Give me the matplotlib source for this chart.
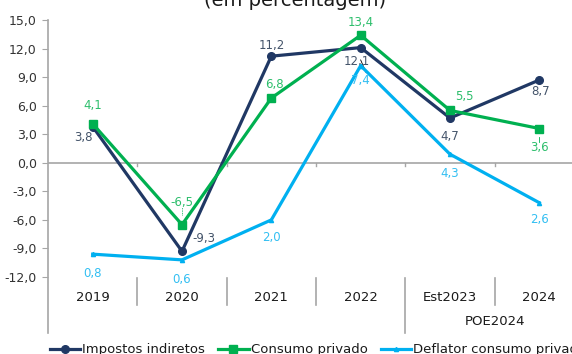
import matplotlib
matplotlib.use("Agg")
import matplotlib.pyplot as plt
from matplotlib.lines import Line2D
import matplotlib.transforms as mtransforms

plt.rcParams['font.family'] = ['DejaVu Sans']

categories = ["2019", "2020", "2021", "2022", "Est2023", "2024"]
group_label = "POE2024"
impostos = [3.8, -9.3, 11.2, 12.1, 4.7, 8.7]
consumo = [4.1, -6.5, 6.8, 13.4, 5.5, 3.6]
deflator = [0.8, 0.6, 2.0, 7.4, 4.3, 2.6]
y_ticks = [-12, -9, -6, -3, 0, 3, 6, 9, 12, 15]

NAVY = "#203864"
GREEN = "#00B050"
BLUE = "#00B0F0"
NAVY_TXT = "#44546A"
GREEN_TXT = "#2DBE6C"
BLUE_TXT = "#33BFF2"
GRID = "#A6A6A6"

W, H = 572, 354
fig = plt.figure(figsize=(W / 100, H / 100), dpi=100)
ax = fig.add_axes([48 / W, 1 - 277 / H, 536 / W, 257 / H])
ax2 = ax.twinx()

x = list(range(len(categories)))
ax.set_xlim(-0.5, len(categories) - 0.5)
ax.set_ylim(-12, 15)
ax2.set_ylim(0, 9)

l1, = ax.plot(x, impostos, color=NAVY, lw=2.3, marker='o', ms=5.5, zorder=4,
              label="Impostos indiretos")
l2, = ax.plot(x, consumo, color=GREEN, lw=2.3, marker='s', ms=6, zorder=4,
              label="Consumo privado")
l3, = ax2.plot(x, deflator, color=BLUE, lw=2.3, marker='^', ms=3, zorder=4,
               label="Deflator consumo privado")

# axes styling
for a in (ax, ax2):
    for s in a.spines.values():
        s.set_visible(False)
ax2.set_yticks([])
ax.set_yticks(y_ticks)
ax.set_yticklabels([f"{v:.1f}".replace(".", ",") for v in y_ticks], fontsize=9, color="#333333")
ax.tick_params(axis='y', length=4, width=0.8, color=GRID, pad=4)
ax.set_xticks([])

# zero line with boundary ticks
ax.axhline(0, color=GRID, lw=1.2, zorder=1)
for b in range(1, len(categories)):
    ax.plot([b - 0.5, b - 0.5], [0, -0.35], color=GRID, lw=1, zorder=1)

# left axis line extends into the category area
blend = mtransforms.blended_transform_factory(ax.transData, ax.transAxes)
ax.add_line(Line2D([-0.5, -0.5], [1, -0.218], transform=blend, color=GRID, lw=1.2, clip_on=False))

# category labels and separators
for i, c in enumerate(categories):
    ax.text(i, -0.078, c, transform=blend, ha='center', va='center', fontsize=9.5, color="#1a1a1a")
for b in range(1, len(categories)):
    bottom = -0.218 if b == 4 else -0.109
    ax.add_line(Line2D([b - 0.5, b - 0.5], [-0.004, bottom], transform=blend, color=GRID,
                       lw=1.2, clip_on=False))
ax.text(4.5, -0.175, group_label, transform=blend, ha='center', va='center', fontsize=9.5,
        color="#1a1a1a")

def fmt(v):
    return f"{v:.1f}".replace(".", ",")

# data labels (offsets in points)
imp_off = [(-7, -8), (16, 9), (0, 8), (-3, -10), (0, -13), (1, -8)]
con_off = [(0, 13), (0, 16), (2, 10), (0, 9), (10, 10), (0, -14)]
def_off = [(0, -14), (0, -14), (0, -13), (0, -11), (0, -14), (0, -12)]

for i, v in enumerate(impostos):
    ax.annotate(fmt(v), (i, v), xytext=imp_off[i], textcoords='offset points',
                ha='center', va='center', fontsize=8.5, color=NAVY_TXT, zorder=6)
for i, v in enumerate(consumo):
    ax.annotate(fmt(v), (i, v), xytext=con_off[i], textcoords='offset points',
                ha='center', va='center', fontsize=8.5, color=GREEN_TXT, zorder=6)
for i, v in enumerate(deflator):
    ax2.annotate(fmt(v), (i, v), xytext=def_off[i], textcoords='offset points',
                 ha='center', va='center', fontsize=8.5, color=BLUE_TXT, zorder=6)

# leader lines
ax.plot([3.0, 3.06], [impostos[3] - 1.3, impostos[3] - 2.6], color="black", lw=0.6, zorder=7)
ax.plot([1, 1], [consumo[1] + 1.0, consumo[1] + 1.9], color=GREEN, lw=0.6, ls=(0, (1, 1)), zorder=7)
ax.plot([5, 5], [consumo[5] - 0.9, consumo[5] - 1.4], color=GREEN, lw=0.6, zorder=7)

# title (partially above the visible area)
fig.text(295 / W, 1 - 6 / H, "(em percentagem)", ha='center', va='baseline', fontsize=14,
         color="#1a1a1a")

fig.legend(handles=[l1, l2, l3], loc='center', bbox_to_anchor=(318 / W, 1 - 350 / H),
           ncol=3, frameon=False, fontsize=9.5, handlelength=2.3, handletextpad=0.15,
           columnspacing=1.0, labelcolor="#1a1a1a")

fig.savefig("out.png", dpi=100)
